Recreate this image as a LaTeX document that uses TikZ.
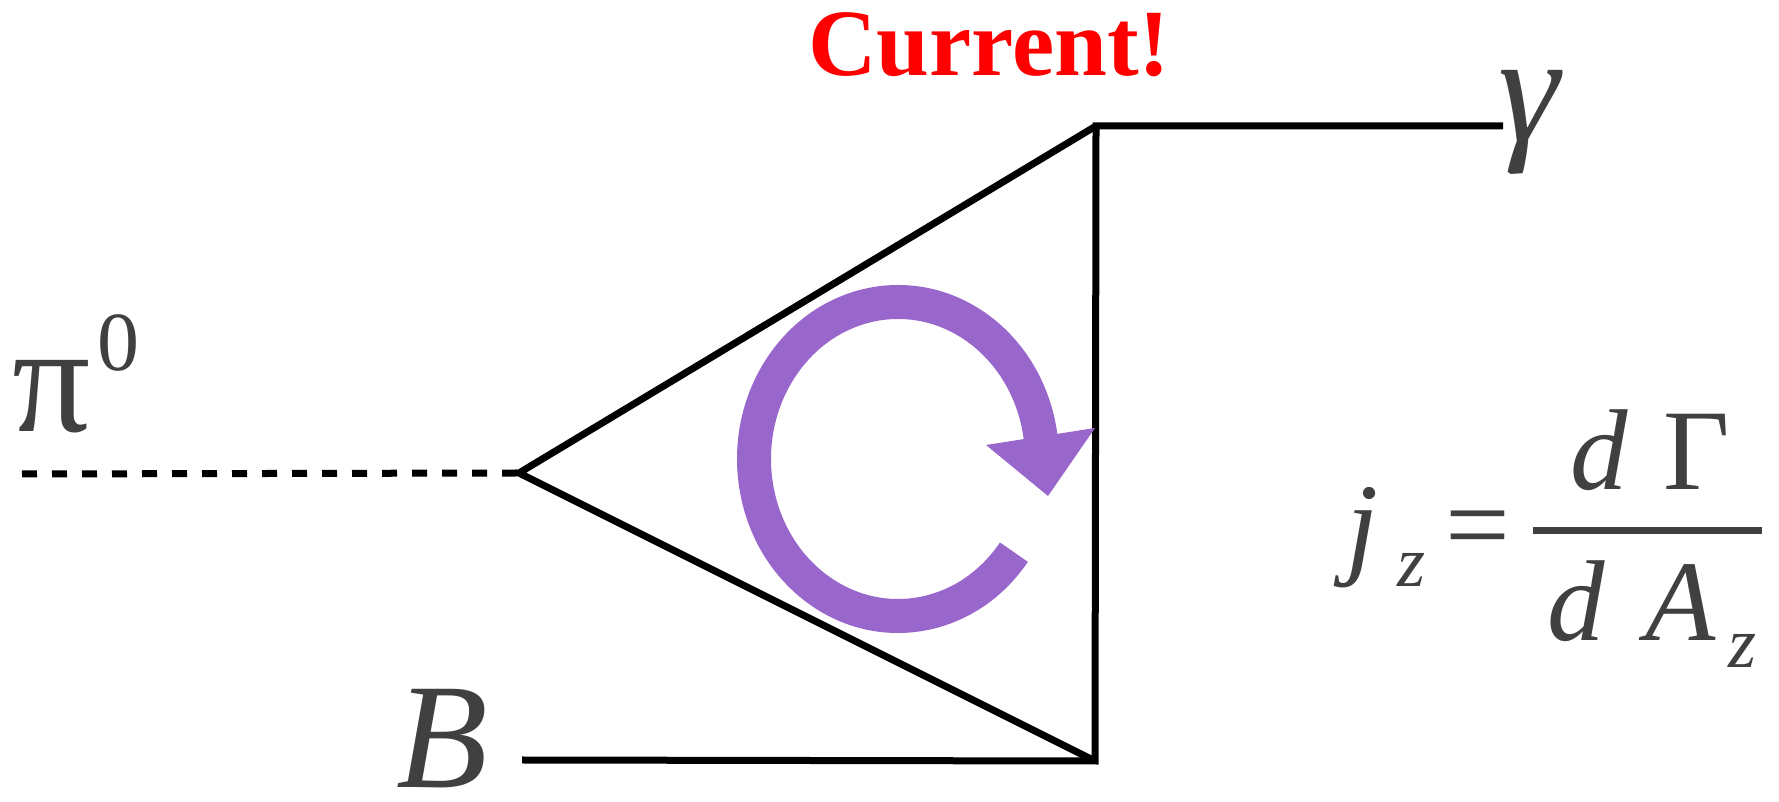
\documentclass[tikz,border=0pt]{standalone}
\usepackage{fontspec}
\setmainfont{Liberation Serif}
\definecolor{ink}{RGB}{64,64,64}
\definecolor{swirl}{RGB}{153,102,204}
\usetikzlibrary{calc}

\begin{document}
\begin{tikzpicture}[
  x=1pt, y=1pt,
  wire/.style={line width=7pt, draw=black},
  dashwire/.style={line width=7pt, draw=black, dash pattern=on 15pt off 15pt},
  lbl/.style={inner sep=0pt, anchor=base west, text=ink, font=\fontsize{155}{155}\selectfont},
  eqtxt/.style={inner sep=0pt, anchor=base west, text=ink, font=\fontsize{115}{115}\selectfont},
  subtxt/.style={inner sep=0pt, anchor=base west, text=ink, font=\itshape\fontsize{72}{72}\selectfont},
  suptxt/.style={inner sep=0pt, anchor=base west, text=ink, font=\fontsize{84}{84}\selectfont},
  curl/.style={line width=34pt, draw=swirl},
]
  \useasboundingbox (0,0) rectangle (1779,802);

  % Vertices of the loop
  \coordinate (pistart) at (22,328);
  \coordinate (vtx) at (519,329);
  \coordinate (top) at (1096,676);
  \coordinate (bot) at (1095,41);
  \coordinate (gend) at (1503,676);
  \coordinate (bstart) at (522,42);

  % Lines
  \draw[dashwire] (pistart) -- (vtx);
  \draw[wire] (bstart) -- (bot) -- (top) -- (gend);
  \draw[wire] (top) -- (vtx) -- (bot);

  % Circulating arrow
  \coordinate (ctr) at (898,343);
  \draw[curl] ([shift={(-36.4:144pt and 157pt)}]ctr)
    arc[start angle=-36.4, end angle=-352, x radius=144pt, y radius=157pt];
  \fill[swirl] (986,357) -- (1095,374) -- (1048,306) -- cycle;

  % Labels
  \node[lbl] (pi) at (12,370) {π};
  \node[suptxt] (pisup) at (97,431) {0};
  \node[lbl, font=\itshape\fontsize{155}{155}\selectfont] (gam) at (1498,660) {γ};
  \node[lbl, font=\itshape\fontsize{150}{150}\selectfont] (bq) at (396,14) {B};
  \node[inner sep=0pt, anchor=base west, text=red, font=\bfseries\fontsize{95}{95}\selectfont] (cur) at (808,726) {Current!};

  % Formula
  \node[eqtxt, font=\itshape\fontsize{115}{115}\selectfont] (jz) at (1346,238) {j};
  \node[subtxt] (jsub) at (1397,215) {z};
  \node[eqtxt] (eq) at (1445,238) {=};
  \coordinate (barl) at (1533,271.5);
  \coordinate (barr) at (1762,271.5);
  \draw[wire, draw=ink] (barl) -- (barr);
  \node[eqtxt, font=\itshape\fontsize{115}{115}\selectfont] (numd) at (1570,312) {d};
  \node[eqtxt] (numg) at (1663,312) {Γ};
  \node[eqtxt, font=\itshape\fontsize{115}{115}\selectfont] (dend) at (1547,161) {d};
  \node[eqtxt, font=\itshape\fontsize{115}{115}\selectfont] (dena) at (1645,161) {A};
  \node[subtxt] (denz) at (1728,134) {z};
\end{tikzpicture}
\end{document}
